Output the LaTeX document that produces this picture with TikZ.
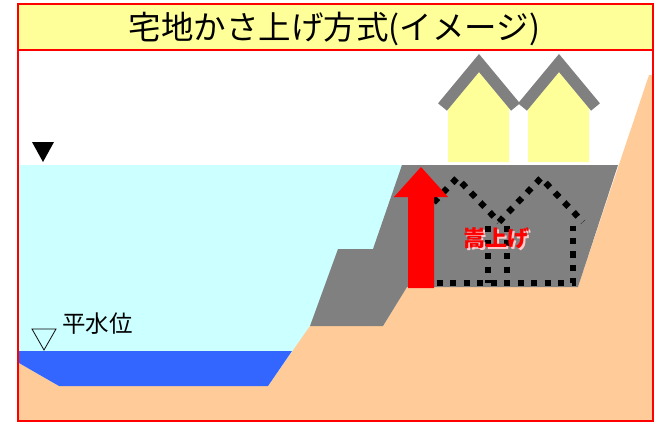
\documentclass[tikz,border=0pt]{standalone}
\usepackage{fontspec}
\newfontfamily\jp{Noto Sans CJK JP}
\definecolor{water}{HTML}{CCFFFF}
\definecolor{river}{HTML}{3366FF}
\definecolor{soil}{HTML}{FFCC99}
\definecolor{embank}{HTML}{808080}
\definecolor{house}{HTML}{FFFF99}
\definecolor{frame}{HTML}{FF0000}
\begin{document}
\begin{tikzpicture}[x=1pt,y=-1pt,
  framebox/.style={draw=frame,line width=2pt},
  roof/.style={draw=embank,line width=11.5pt,line join=miter,line cap=butt},
  oldhouse/.style={draw=black,line width=6.2pt,dash pattern=on 6.2pt off 7.3pt},
  label/.style={font=\jp\fontsize{23.5}{23.5}\selectfont,inner sep=0pt},
  raiselabel/.style={font=\jp\bfseries\fontsize{22}{22}\selectfont,inner sep=0pt}]
\useasboundingbox (0,0) rectangle (659,423);

% main panel
\fill[white] (18,50) rectangle (653,421);
\fill[water] (19,165) rectangle (420,400);
% ground
\fill[soil] (19,363) -- (59,386) -- (268,386) -- (310,326) -- (383,326)
  -- (407,287) -- (578,287) -- (649,75) -- (653,75) -- (653,421) -- (19,421) -- cycle;
% raised fill
\fill[embank] (402,165) -- (618,165) -- (578,287) -- (407,287) -- (383,326)
  -- (310,326) -- (338,249) -- (373,249) -- cycle;
% river channel
\fill[river] (19,351) -- (292,351) -- (268,386) -- (59,386) -- (19,363) -- cycle;

% houses on the raised ground
\foreach \dx in {0,80} {
  \fill[house] (448+\dx,162) -- (448+\dx,108) -- (479+\dx,72) -- (509+\dx,108)
    -- (509+\dx,162) -- cycle;
  \draw[roof] (442.5+\dx,107) -- (479+\dx,63) -- (515.5+\dx,107);
}

% former house outlines
\draw[oldhouse] (415,222) -- (457,178) -- (499,222);
\draw[oldhouse] (499,222) -- (541,178) -- (583,222);
\draw[oldhouse] (426,226) -- (426,283) -- (573,283) -- (573,226);
\draw[oldhouse] (488,226) -- (488,283);
\draw[oldhouse] (507,226) -- (507,283);

% raise arrow
\fill[frame] (408,288) -- (408,197) -- (394,197) -- (421,167) -- (448,197)
  -- (434,197) -- (434,288) -- cycle;
\node[raiselabel,text=white!80!red] at (498,240) {嵩上げ};
\node[raiselabel,text=frame] (raise) at (496.5,238.5) {嵩上げ};

% water level marks
\fill[black] (32,142) -- (54,142) -- (43,162) -- cycle;
\draw[black,line width=0.8pt] (32,329) -- (56,329) -- (44,350) -- cycle;
\node[label,anchor=west] (level) at (62,324) {平水位};

% frames
\draw[framebox] (18,50) rectangle (653,421);
\draw[framebox,fill=house] (18,4) rectangle (653,50);
\node[font=\jp\fontsize{32.5}{32.5}\selectfont,inner sep=0pt] (title) at (334.5,28.5) {宅地かさ上げ方式(イメージ)};
\end{tikzpicture}
\end{document}
